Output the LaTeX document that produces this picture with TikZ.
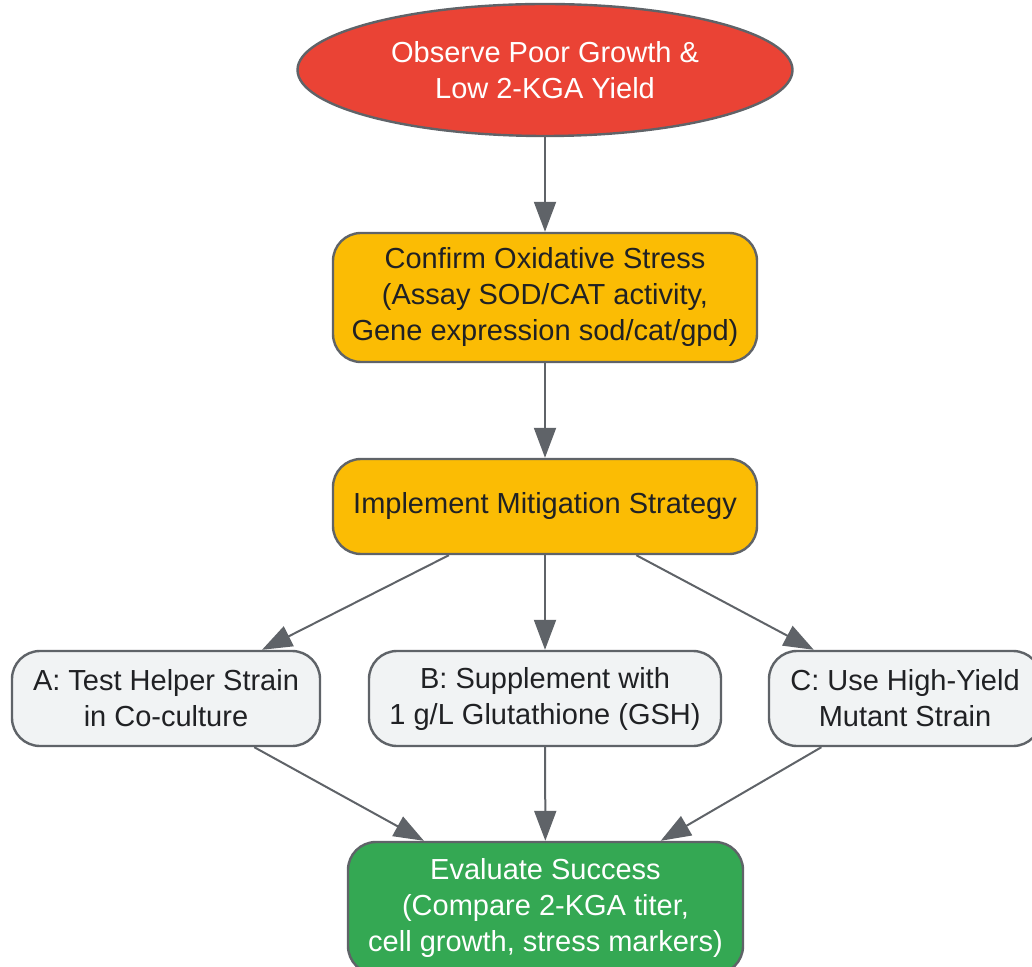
\documentclass[tikz,border=0pt]{standalone}
\usepackage{fontspec}
\setmainfont{Liberation Sans}
\usepackage{tikz}
\usetikzlibrary{arrows.meta,shapes.geometric}
\definecolor{edgegrey}{HTML}{5F6368}
\definecolor{startred}{HTML}{EA4335}
\definecolor{stepyellow}{HTML}{FBBC04}
\definecolor{optiongrey}{HTML}{F1F3F4}
\definecolor{endgreen}{HTML}{34A853}
\definecolor{textdark}{HTML}{202124}

\begin{document}
\begin{tikzpicture}[x=0.5pt,y=-0.5pt,
  box/.style={draw=edgegrey, line width=1.2pt, rounded corners=14pt, align=center,
    inner sep=0pt, font=\fontsize{14.5}{18}\selectfont},
  stepbox/.style={box, fill=stepyellow, text=textdark, minimum width=212pt},
  optbox/.style={box, fill=optiongrey, text=textdark, minimum height=47.5pt},
  link/.style={draw=edgegrey, line width=1pt, -{Triangle[length=15pt,width=11pt]}}]
\useasboundingbox (0,0) rectangle (1032,967);
\node[ellipse, draw=edgegrey, line width=1.2pt, fill=startred, text=white, align=center,
  inner sep=0pt, minimum width=247.5pt, minimum height=66pt,
  font=\fontsize{14.5}{18}\selectfont] (observe) at (545,70)
  {Observe Poor Growth \&\\Low 2-KGA Yield};
\node[stepbox, minimum height=64.5pt] (confirm) at (545,297.5)
  {Confirm Oxidative Stress\\(Assay SOD/CAT activity,\\Gene expression sod/cat/gpd)};
\node[stepbox, minimum height=47.5pt] (implement) at (545,506.5)
  {Implement Mitigation Strategy};
\node[optbox, minimum width=154pt] (helper) at (166,698.5)
  {A: Test Helper Strain\\in Co-culture};
\node[optbox, minimum width=176pt] (supplement) at (545,698.5)
  {B: Supplement with\\1 g/L Glutathione (GSH)};
\node[optbox, minimum width=136pt] (mutant) at (905,698.5)
  {C: Use High-Yield\\Mutant Strain};
\node[box, fill=endgreen, text=white, minimum width=197.5pt, minimum height=66pt]
  (evaluate) at (545.5,908)
  {Evaluate Success\\(Compare 2-KGA titer,\\cell growth, stress markers)};

\draw[link] (observe) -- (confirm);
\draw[link] (confirm) -- (implement);
\draw[link] (implement) -- (helper);
\draw[link] (implement) -- (supplement);
\draw[link] (implement) -- (mutant);
\draw[link] (helper) -- (evaluate);
\draw[link] (supplement) -- (evaluate);
\draw[link] (mutant) -- (evaluate);
\end{tikzpicture}
\end{document}
